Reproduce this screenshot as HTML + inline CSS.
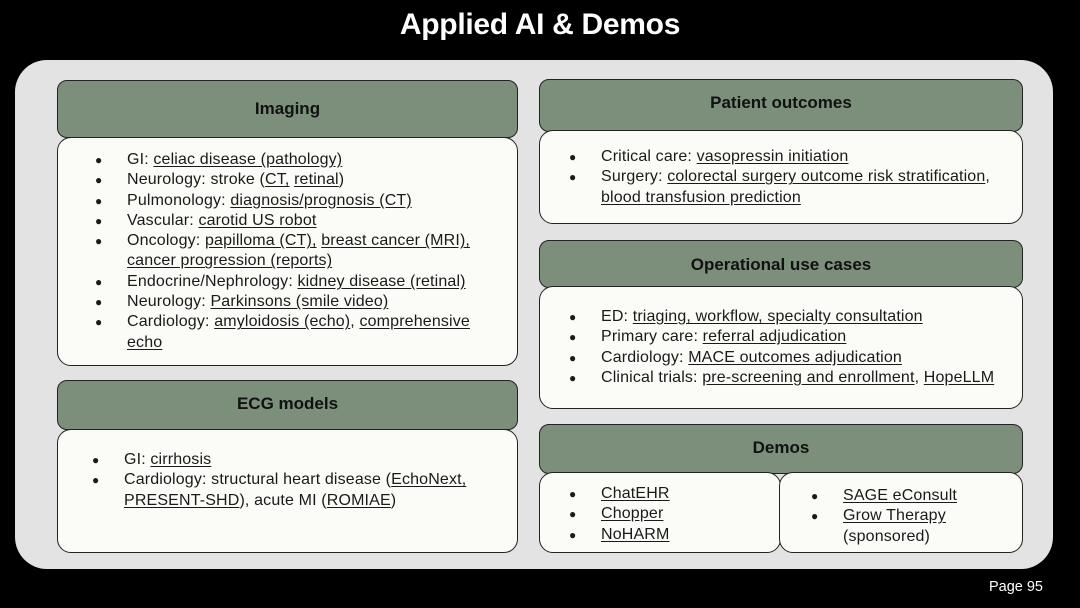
<!DOCTYPE html>
<html><head><meta charset="utf-8"><style>
*{margin:0;padding:0;box-sizing:border-box}
body{width:1080px;height:608px;background:#000;position:relative;overflow:hidden;font-family:"Liberation Sans",Arial,sans-serif;color:#1a1a1a}
.title{position:absolute;left:0;width:1080px;top:8px;text-align:center;color:#fff;font-weight:bold;font-size:30px;letter-spacing:-0.3px}
.panel{position:absolute;left:15px;top:60px;width:1038px;height:509px;background:#e3e3e3;border-radius:32px}
.hd{position:absolute;background:#7b8f7b;border:1.5px solid #222;border-radius:10px;text-align:center;font-weight:bold;font-size:17px;color:#111}
.bd{position:absolute;background:#fbfbf7;border:1.5px solid #222;border-radius:14px}
.l{position:absolute;font-size:16px;letter-spacing:0.15px;line-height:20.3px;white-space:nowrap}
.l div{position:relative;padding-left:32px}
.l div.b::before{content:"●";position:absolute;left:0;font-size:12px;top:0}
u{text-decoration:underline;text-underline-offset:2px}
.page{position:absolute;right:37px;top:579px;color:#fff;font-size:14.5px}
</style></head><body>
<div class="title">Applied AI &amp; Demos</div>
<div class="panel"></div>

<div class="hd" style="left:57px;top:80px;width:461px;height:58px;line-height:55px">Imaging</div>
<div class="bd" style="left:57px;top:137px;width:461px;height:229px"></div>
<div class="l" style="left:95px;top:150px">
<div class="b">GI: <u>celiac disease (pathology)</u></div>
<div class="b">Neurology: stroke (<u>CT,</u> <u>retinal</u>)</div>
<div class="b">Pulmonology: <u>diagnosis/prognosis (CT)</u></div>
<div class="b">Vascular: <u>carotid US robot</u></div>
<div class="b">Oncology: <u>papilloma (CT),</u> <u>breast cancer (MRI),</u></div>
<div><u>cancer progression (reports)</u></div>
<div class="b">Endocrine/Nephrology: <u>kidney disease (retinal)</u></div>
<div class="b">Neurology: <u>Parkinsons (smile video)</u></div>
<div class="b">Cardiology: <u>amyloidosis (echo)</u>, <u>comprehensive</u></div>
<div><u>echo</u></div>
</div>

<div class="hd" style="left:57px;top:380px;width:461px;height:50px;line-height:46px">ECG models</div>
<div class="bd" style="left:57px;top:429px;width:461px;height:124px"></div>
<div class="l" style="left:92px;top:450px">
<div class="b">GI: <u>cirrhosis</u></div>
<div class="b">Cardiology: structural heart disease (<u>EchoNext,</u></div>
<div><u>PRESENT-SHD</u>), acute MI (<u>ROMIAE</u>)</div>
</div>

<div class="hd" style="left:539px;top:79px;width:484px;height:53px;line-height:46px">Patient outcomes</div>
<div class="bd" style="left:539px;top:130px;width:484px;height:94px"></div>
<div class="l" style="left:569px;top:147px">
<div class="b">Critical care: <u>vasopressin initiation</u></div>
<div class="b">Surgery: <u>colorectal surgery outcome risk stratification</u>,</div>
<div><u>blood transfusion prediction</u></div>
</div>

<div class="hd" style="left:539px;top:240px;width:484px;height:48px;line-height:47px">Operational use cases</div>
<div class="bd" style="left:539px;top:286px;width:484px;height:123px"></div>
<div class="l" style="left:569px;top:307px">
<div class="b">ED: <u>triaging, workflow, specialty consultation</u></div>
<div class="b">Primary care: <u>referral adjudication</u></div>
<div class="b">Cardiology: <u>MACE outcomes adjudication</u></div>
<div class="b">Clinical trials: <u>pre-screening and enrollment</u>, <u>HopeLLM</u></div>
</div>

<div class="hd" style="left:539px;top:424px;width:484px;height:50px;line-height:46px">Demos</div>
<div class="bd" style="left:539px;top:472px;width:242px;height:81px"></div>
<div class="bd" style="left:779px;top:472px;width:244px;height:81px"></div>
<div class="l" style="left:569px;top:484px">
<div class="b"><u>ChatEHR</u></div>
<div class="b"><u>Chopper</u></div>
<div class="b"><u>NoHARM</u></div>
</div>
<div class="l" style="left:811px;top:486px">
<div class="b"><u>SAGE eConsult</u></div>
<div class="b"><u>Grow Therapy</u></div>
<div>(sponsored)</div>
</div>

<div class="page">Page 95</div>
</body></html>
